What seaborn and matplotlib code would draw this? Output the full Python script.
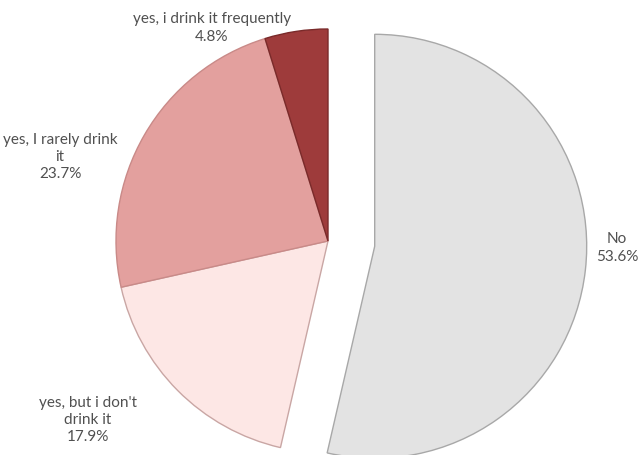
import matplotlib
matplotlib.use('Agg')
import matplotlib.pyplot as plt
import seaborn as sns

sns.set_theme(style='white')
plt.rcParams['font.family'] = ['Lato', 'DejaVu Sans']

# data
labels = ['No', "yes, but i don't\ndrink it", 'yes, I rarely drink\nit', 'yes, i drink it frequently']
shares = [53.6, 17.9, 23.7, 4.8]
colors = ['#e3e3e3', '#fde7e5', '#e3a09e', '#9e3b3b']
edges = ['#a8a8a8', '#c9a6a4', '#c98a88', '#7a2a2a']

fig = plt.figure(figsize=(6.4, 4.56), dpi=100)
ax = fig.add_axes([0, 0, 1, 1])

# pie in pixel-like data units so the layout lines up with the figure
# (explode is in data units, so the "No" slice is pulled out ~47 px)
wedges, _ = ax.pie(shares, colors=colors, explode=[47, 0, 0, 0], startangle=90,
                   counterclock=False, center=(328, 214), radius=212,
                   frame=False,
                   wedgeprops=dict(linewidth=1.0))
for w, ec in zip(wedges, edges):
    w.set_edgecolor(ec)

ax.set_xlim(0, 640)
ax.set_ylim(0, 456)
ax.set_aspect('equal')
ax.axis('off')

# data labels, placed like the original
label_pos = [(617, 208), (88, 36), (60, 299), (212, 428)]
for lab, val, (x, y) in zip(labels, shares, label_pos):
    ax.text(x, y, f'{lab}\n{val:.1f}%', ha='center', va='center',
            fontsize=11, color='#505050', linespacing=1.3)

fig.savefig('out.png', dpi=100)
